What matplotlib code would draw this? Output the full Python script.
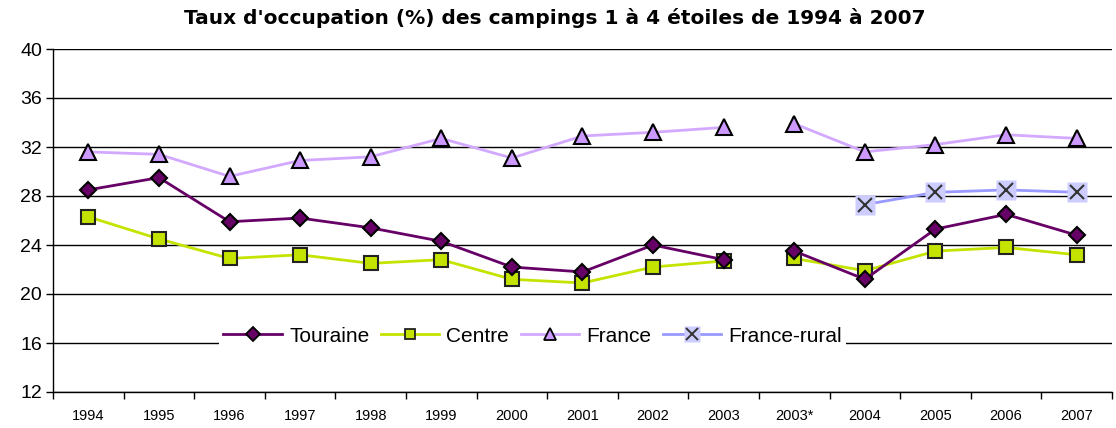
import matplotlib
matplotlib.use("Agg")
import matplotlib.pyplot as plt
import numpy as np
from matplotlib.legend_handler import HandlerTuple

categories = ["1994", "1995", "1996", "1997", "1998", "1999", "2000", "2001",
              "2002", "2003", "2003*", "2004", "2005", "2006", "2007"]
touraine = [28.5, 29.5, 25.9, 26.2, 25.4, 24.3, 22.2, 21.8, 24.0, 22.8,
            23.5, 21.2, 25.3, 26.5, 24.8]
centre = [26.3, 24.5, 22.9, 23.2, 22.5, 22.8, 21.2, 20.9, 22.2, 22.7,
          22.9, 21.9, 23.5, 23.8, 23.2]
france = [31.6, 31.4, 29.6, 30.9, 31.2, 32.7, 31.1, 32.9, 33.2, 33.6,
          33.9, 31.6, 32.2, 33.0, 32.7]
france_rural = [None, None, None, None, None, None, None, None, None, None,
                None, 27.3, 28.3, 28.5, 28.3]
yticks = [12, 16, 20, 24, 28, 32, 36, 40]
title = "Taux d'occupation (%) des campings 1 à 4 étoiles de 1994 à 2007"

plt.rcParams['font.family'] = ['Liberation Sans', 'DejaVu Sans']

fig = plt.figure(figsize=(11.16, 4.28), dpi=100)
ax = fig.add_axes([53/1116, 1-392/428, 1059/1116, 343/428])

x = np.arange(len(categories))
segments = [(0, 10), (10, 15)]

def seg_plot(vals, color, lw, zorder):
    arr = np.array([np.nan if v is None else v for v in vals], dtype=float)
    for a, b in segments:
        ax.plot(x[a:b], arr[a:b], color=color, lw=lw, zorder=zorder,
                solid_capstyle='butt')
    return arr

c_tour = "#660066"
c_cent = "#C4E400"
c_fr_line = "#D3A8FF"
c_fr_mark = "#CC99FF"
c_rur_line = "#9999FF"
c_rur_bg = "#CCCCFF"

a_fr = seg_plot(france, c_fr_line, 2.0, 3)
ax.plot(x, a_fr, ls='none', marker='^', ms=12, mfc=c_fr_mark, mec='black', mew=1.5, zorder=4)
a_ce = seg_plot(centre, c_cent, 2.0, 3)
ax.plot(x, a_ce, ls='none', marker='s', ms=10, mfc=c_cent, mec='#222222', mew=1.5, zorder=4)
a_to = seg_plot(touraine, c_tour, 2.0, 5)
ax.plot(x, a_to, ls='none', marker='D', ms=8.5, mfc=c_tour, mec='black', mew=1.5, zorder=6)
a_ru = seg_plot(france_rural, c_rur_line, 2.0, 3)
ax.plot(x, a_ru, ls='none', marker='s', ms=14, mfc=c_rur_bg, mec='none', zorder=4)
ax.plot(x, a_ru, ls='none', marker='x', ms=10, mec='#333333', mew=1.5, zorder=5)

ax.set_ylim(12, 40)
ax.set_xlim(-0.5, len(categories) - 0.5)
ax.set_yticks(yticks)
ax.set_yticklabels([str(v) for v in yticks], fontsize=14)
ax.yaxis.grid(True, color='black', lw=1)
ax.set_axisbelow(True)
ax.set_xticks(x)
ax.set_xticklabels(categories, fontsize=10.5)
ax.set_xticks(np.arange(len(categories) + 1) - 0.5, minor=True)
ax.tick_params(axis='x', which='major', length=0, pad=12)
ax.tick_params(axis='x', which='minor', length=5, direction='out', width=1)
ax.tick_params(axis='y', length=5, direction='out', width=1, pad=3)
for s in ['top', 'right']:
    ax.spines[s].set_visible(False)
ax.spines['left'].set_linewidth(1)
ax.spines['bottom'].set_linewidth(1)

fig.text(555/1116, 1 - 18/428, title, ha='center', va='center', fontsize=14.5,
         fontweight='bold', family='DejaVu Sans')

h_to = ax.plot([], [], color=c_tour, lw=2, marker='D', ms=7, mfc=c_tour, mec='black', mew=1.3)[0]
h_ce = ax.plot([], [], color=c_cent, lw=2, marker='s', ms=7, mfc=c_cent, mec='#222222', mew=1.3)[0]
h_fr = ax.plot([], [], color=c_fr_line, lw=2, marker='^', ms=8.5, mfc=c_fr_mark, mec='black', mew=1.3)[0]
h_ru1 = ax.plot([], [], color=c_rur_line, lw=2, marker='s', ms=11.5, mfc=c_rur_bg, mec='none')[0]
h_ru2 = ax.plot([], [], ls='none', marker='x', ms=8.5, mec='#333333', mew=1.4)[0]
leg = ax.legend([h_to, h_ce, h_fr, (h_ru1, h_ru2)],
                ["Touraine", "Centre", "France", "France-rural"],
                handler_map={tuple: HandlerTuple(ndivide=1)},
                loc='center', bbox_to_anchor=(0.453, 0.163), ncol=4,
                frameon=True, fontsize=15, handlelength=2.8, handletextpad=0.35,
                columnspacing=0.55, borderpad=0.2, fancybox=False)
leg.get_frame().set_facecolor('white')
leg.get_frame().set_edgecolor('none')
leg.get_frame().set_alpha(1)
leg.set_zorder(10)

fig.savefig("out.png", dpi=100)
